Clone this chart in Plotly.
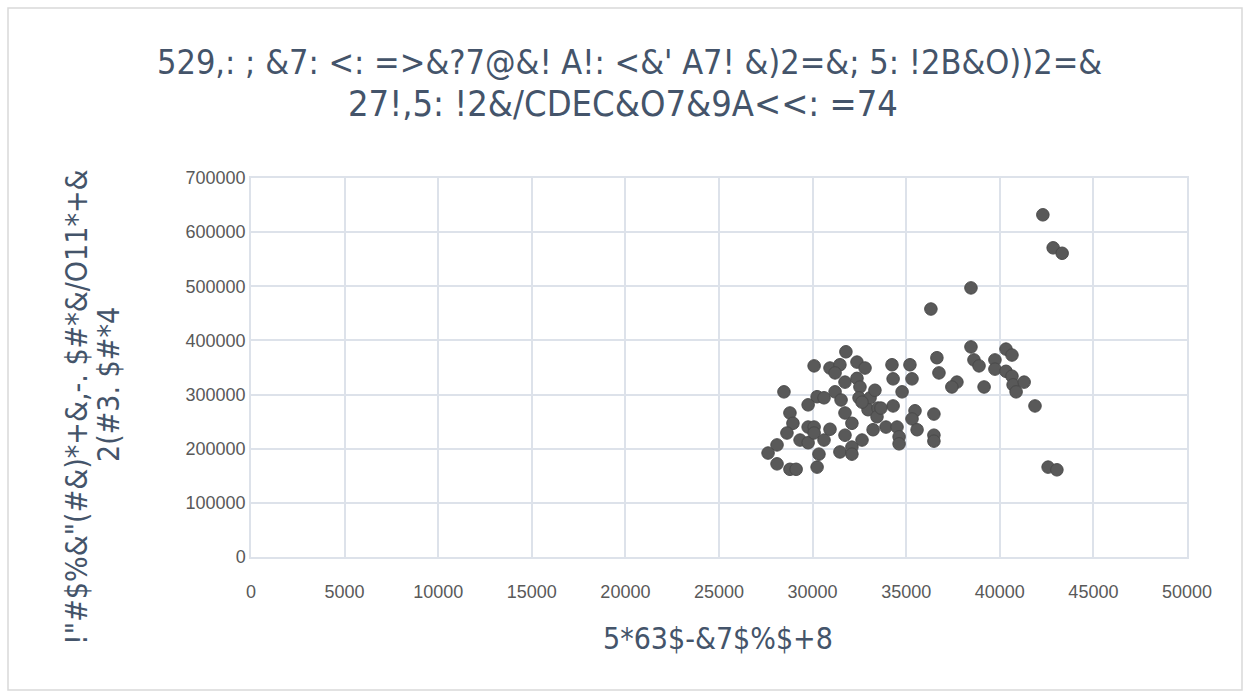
import plotly.graph_objects as go

# Data
income = [42300, 42850, 43330, 38460, 36320, 38460, 36640, 36750, 38620, 38890,
          39740, 39740, 40330, 40650, 40330, 40650, 40710, 41300, 40870, 41880,
          37710, 37440, 39160, 42580, 43050, 34240, 35200, 34300, 35310, 34780,
          34300, 35470, 35310, 36480, 33920, 34510, 35580, 34620, 34620, 36480,
          36480, 31780, 30080, 30930, 31460, 31200, 32370, 32800, 31730, 32370,
          32530, 28470, 30240, 29760, 30610, 31200, 31520, 32480, 33070, 33330,
          32960, 33490, 28790, 28950, 28630, 29760, 30080, 29330, 29760, 30080,
          30610, 30930, 31730, 32100, 31730, 32640, 31460, 32100, 32100, 28100,
          27620, 28100, 28790, 29120, 30240, 30340, 33440, 33230, 33650, 32640]
value = [632000, 571000, 561000, 497000, 458000, 388000, 368000, 340000, 364000, 353000,
         364000, 347000, 384000, 373000, 343000, 334000, 318000, 323000, 305000, 279000,
         323000, 314000, 314000, 166000, 161000, 355000, 355000, 329000, 329000, 305000,
         279000, 270000, 255000, 264000, 240000, 240000, 235000, 222000, 209000, 225000,
         214000, 379000, 353000, 349000, 355000, 340000, 360000, 349000, 323000, 330000,
         314000, 305000, 296000, 281000, 294000, 305000, 290000, 294000, 294000, 308000,
         272000, 275000, 266000, 247000, 229000, 240000, 240000, 216000, 211000, 229000,
         216000, 236000, 266000, 247000, 225000, 216000, 194000, 203000, 190000, 207000,
         192000, 172000, 162000, 162000, 166000, 190000, 259000, 235000, 275000, 286000]

x_ticks = [0, 5000, 10000, 15000, 20000, 25000, 30000, 35000, 40000, 45000, 50000]
y_ticks = [0, 100000, 200000, 300000, 400000, 500000, 600000, 700000]

title_line1 = "529,: ; &7: <: =>&?7@&! A!: <&' A7! &)2=&; 5: !2B&O))2=&"
title_line2 = "27!,5: !2&/CDEC&O7&9A<<: =74"
x_title = "5*63$-&7$%$+8"
y_title_line1 = "!\"#$%&\"(#&)*+&,-. $#*&/O11*+&"
y_title_line2 = "2(#3. $#*4"

text_color = "#44546A"
tick_color = "#595959"
grid_color = "#DDE2EA"
narrow = "Liberation Sans Narrow, DejaVu Sans Condensed, Liberation Sans, Arial"

fig = go.Figure()
fig.add_trace(go.Scatter(
    x=income, y=value, mode="markers",
    marker=dict(size=12.5, color="#595959", line=dict(color="#4A4A4A", width=1)),
    showlegend=False,
))

fig.update_layout(
    width=1250, height=696,
    margin=dict(l=251, r=63, t=178, b=139),
    paper_bgcolor="white", plot_bgcolor="white",
    xaxis=dict(range=[0, 50000], tickvals=x_ticks, ticktext=[str(v) for v in x_ticks],
               showgrid=True, gridcolor=grid_color, gridwidth=1.5,
               zeroline=False, showline=True, linecolor=grid_color, linewidth=1.5,
               mirror=True, ticks="", ticklabelstandoff=18,
               tickfont=dict(family="Liberation Sans, Arial", size=18, color=tick_color)),
    yaxis=dict(range=[0, 700000], tickvals=y_ticks, ticktext=[str(v) for v in y_ticks],
               showgrid=True, gridcolor=grid_color, gridwidth=1.5,
               zeroline=False, showline=True, linecolor=grid_color, linewidth=1.5,
               mirror=True, ticks="",
               tickfont=dict(family="Liberation Sans, Arial", size=18, color=tick_color)),
)

def px_x(px):
    return (px - 251) / 936

def px_y(py):
    return (557 - py) / 379

anns = [
    dict(text=title_line1, x=px_x(629), y=px_y(62), size=34),
    dict(text=title_line2, x=px_x(623), y=px_y(104), size=36),
    dict(text=x_title, x=px_x(718), y=px_y(638), size=30),
]
for a in anns:
    fig.add_annotation(text=a["text"], x=a["x"], y=a["y"], xref="paper", yref="paper",
                       showarrow=False, xanchor="center", yanchor="middle",
                       font=dict(family=narrow, size=a["size"], color=text_color))
fig.add_annotation(text=y_title_line1, x=px_x(76), y=px_y(407), xref="paper", yref="paper",
                   showarrow=False, textangle=-90, xanchor="center", yanchor="middle",
                   font=dict(family=narrow, size=30, color=text_color))
fig.add_annotation(text=y_title_line2, x=px_x(108), y=px_y(385), xref="paper", yref="paper",
                   showarrow=False, textangle=-90, xanchor="center", yanchor="middle",
                   font=dict(family=narrow, size=30, color=text_color))

fig.add_shape(type="rect", xref="paper", yref="paper",
              x0=px_x(8), x1=px_x(1242), y0=px_y(690), y1=px_y(8),
              line=dict(color="#D9D9D9", width=1.5), fillcolor="rgba(0,0,0,0)", layer="below")

fig.write_html("out.html")
